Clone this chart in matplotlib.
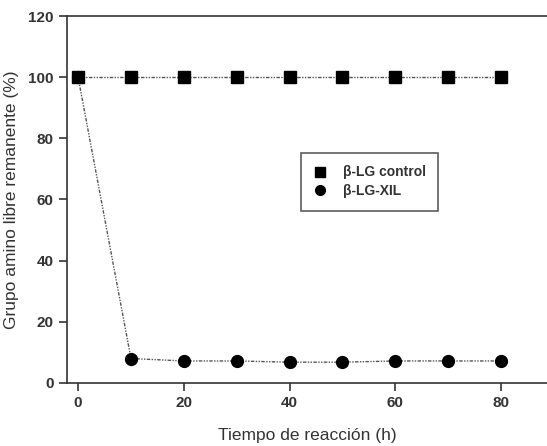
import numpy as np
import matplotlib.pyplot as plt

plt.rcParams['font.family'] = ['Liberation Sans', 'DejaVu Sans']

# ---------- Data ----------
tiempo = [0, 10, 20, 30, 40, 50, 60, 70, 80]
control = [100, 100, 100, 100, 100, 100, 100, 100, 100]
xil = [100, 8.0, 7.2, 7.2, 6.8, 6.8, 7.2, 7.2, 7.2]

fig = plt.figure(figsize=(5.47, 4.46), dpi=100)
ax = fig.add_axes([0.1225, 0.1413, 0.8775, 0.8228])

line_kw = dict(color='#555555', lw=1.0, linestyle=(0, (2.5, 1, 1, 1, 1, 1)))
ax.plot(tiempo, control, marker='s', ms=8.5, mfc='black', mec='black',
        label='β-LG control', **line_kw)
ax.plot(tiempo, xil, marker='o', ms=8.5, mfc='black', mec='black',
        label='β-LG-XIL', **line_kw)

ax.set_xlim(-2.1, 88.7)
ax.set_ylim(0, 120)
ax.set_xticks([0, 20, 40, 60, 80])
ax.set_yticks([0, 20, 40, 60, 80, 100, 120])

for s in ['left', 'bottom', 'top']:
    ax.spines[s].set_color('#333333')
    ax.spines[s].set_linewidth(1.2)
ax.spines['right'].set_visible(False)

ax.tick_params(direction='out', length=6, width=1.2, color='#333333',
               labelsize=11, labelcolor='#333333')
for lab in ax.get_xticklabels() + ax.get_yticklabels():
    lab.set_fontweight('bold')

ax.set_xlabel('Tiempo de reacción (h)', fontsize=12.5, color='#333333', labelpad=13)
ax.set_ylabel('Grupo amino libre remanente (%)', fontsize=12.5, color='#333333', labelpad=7)

leg = ax.legend(loc='upper left', bbox_to_anchor=(0.4875, 0.627), borderaxespad=0,
                frameon=True, fancybox=False, edgecolor='#333333', handlelength=1.0,
                handletextpad=1.1, borderpad=0.9, labelspacing=0.35,
                prop={'size': 10, 'weight': 'bold'})
leg.get_frame().set_linewidth(1.2)
for h in leg.legend_handles:
    h.set_linestyle('none')
    h.set_markersize(7)
for t in leg.get_texts():
    t.set_color('#333333')

plt.savefig('out.png', dpi=100)
